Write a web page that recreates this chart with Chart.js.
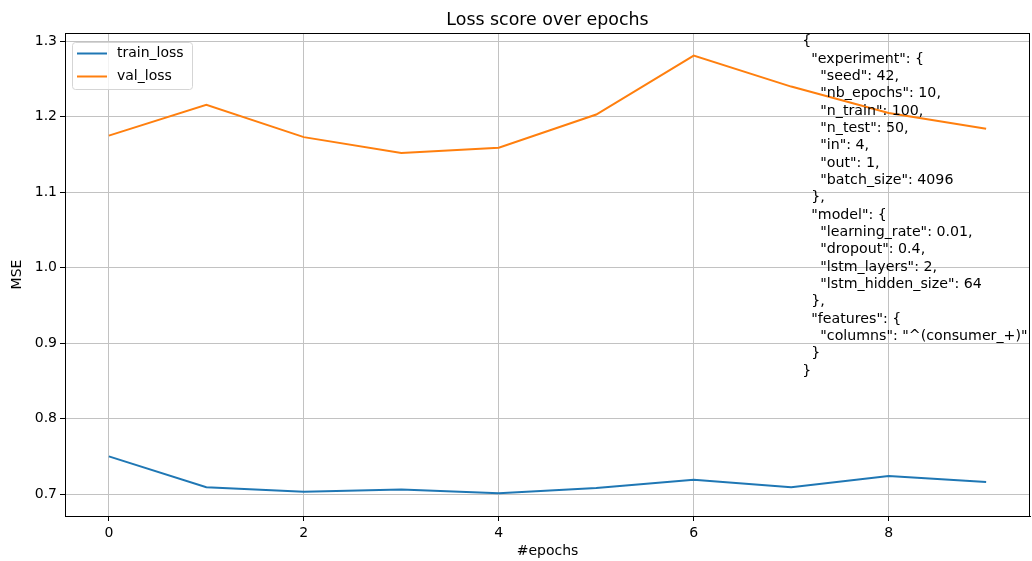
<!DOCTYPE html>
<html>
<head>
<meta charset="utf-8">
<title>Loss score over epochs</title>
<script src="https://cdn.jsdelivr.net/npm/chart.js@4/dist/chart.umd.min.js"></script>
<style>
  html, body { margin: 0; padding: 0; background: #fff; }
  #lossChart { display: block; }
</style>
</head>
<body>
<canvas id="lossChart" width="1032" height="561"></canvas>
<script>
// data
const epochs = [0, 1, 2, 3, 4, 5, 6, 7, 8, 9];
const trainLoss = [0.750, 0.709, 0.703, 0.706, 0.701, 0.708, 0.719, 0.709, 0.724, 0.716];
const valLoss = [1.175, 1.216, 1.173, 1.152, 1.159, 1.203, 1.281, 1.240, 1.205, 1.184];
const xTicks = [0, 2, 4, 6, 8];
const yTicks = [0.7, 0.8, 0.9, 1.0, 1.1, 1.2, 1.3];
const yTickLabels = ['0.7', '0.8', '0.9', '1.0', '1.1', '1.2', '1.3'];
const chartTitle = 'Loss score over epochs';
const configLines = [
  '{',
  '  "experiment": {',
  '    "seed": 42,',
  '    "nb_epochs": 10,',
  '    "n_train": 100,',
  '    "n_test": 50,',
  '    "in": 4,',
  '    "out": 1,',
  '    "batch_size": 4096',
  '  },',
  '  "model": {',
  '    "learning_rate": 0.01,',
  '    "dropout": 0.4,',
  '    "lstm_layers": 2,',
  '    "lstm_hidden_size": 64',
  '  },',
  '  "features": {',
  '    "columns": "^(consumer_+)"',
  '  }',
  '}'
];

const FONT = 'DejaVu Sans';

const toPoints = (ys) => epochs.map((x, i) => ({ x: x, y: ys[i] }));

// title over the axes, box round the plot, legend and the json text
const framePlugin = {
  id: 'frame',
  afterDatasetsDraw(chart) {
    const { ctx, chartArea: a } = chart;
    ctx.save();

    // title, centred on the plot area like matplotlib does
    ctx.fillStyle = '#000';
    ctx.font = '17.4px "' + FONT + '"';
    ctx.textAlign = 'center';
    ctx.textBaseline = 'middle';
    ctx.fillText(chartTitle, (a.left + a.right) / 2, 20);

    // json annotation
    ctx.font = '14.2px "' + FONT + '"';
    ctx.textAlign = 'left';
    const tx = a.left + 0.764 * (a.right - a.left);
    configLines.forEach((line, i) => {
      ctx.fillText(line, tx, 41.5 + i * 17.35);
    });

    // legend
    ctx.font = '14px "' + FONT + '"';
    const lx = a.left + 7, ly = a.top + 9, lw = 120, lh = 47;
    ctx.fillStyle = 'rgba(255,255,255,0.8)';
    ctx.strokeStyle = '#d5d5d5';
    ctx.lineWidth = 1;
    ctx.beginPath();
    ctx.roundRect(lx + 0.5, ly + 0.5, lw, lh, 3);
    ctx.fill();
    ctx.stroke();
    chart.data.datasets.forEach((ds, i) => {
      const y = ly + 11.5 + i * 23;
      ctx.strokeStyle = ds.borderColor;
      ctx.lineWidth = 2;
      ctx.beginPath();
      ctx.moveTo(lx + 5, y);
      ctx.lineTo(lx + 35, y);
      ctx.stroke();
      ctx.fillStyle = '#000';
      ctx.fillText(ds.label, lx + 45, y);
    });

    // frame
    ctx.strokeStyle = '#000';
    ctx.lineWidth = 1;
    ctx.strokeRect(Math.round(a.left) + 0.5, Math.round(a.top) + 0.5,
                   Math.round(a.right - a.left) - 1, Math.round(a.bottom - a.top));
    ctx.restore();
  }
};

new Chart(document.getElementById('lossChart'), {
  type: 'line',
  data: {
    datasets: [{
      label: 'train_loss',
      data: toPoints(trainLoss),
      borderColor: '#1f77b4',
      backgroundColor: '#1f77b4',
      borderWidth: 2,
      pointRadius: 0,
      tension: 0
    }, {
      label: 'val_loss',
      data: toPoints(valLoss),
      borderColor: '#ff7f0e',
      backgroundColor: '#ff7f0e',
      borderWidth: 2,
      pointRadius: 0,
      tension: 0
    }]
  },
  options: {
    responsive: false,
    animation: false,
    layout: { padding: { top: 33, right: 2, bottom: 0, left: 0 } },
    plugins: {
      legend: { display: false },
      tooltip: { enabled: false },
      title: { display: false }
    },
    scales: {
      x: {
        type: 'linear',
        min: -0.45,
        max: 9.45,
        afterBuildTicks: (scale) => { scale.ticks = xTicks.map(v => ({ value: v })); },
        afterFit: (scale) => { scale.height = 45; },
        ticks: {
          color: '#000',
          font: { family: FONT, size: 14 },
          padding: 4,
          maxRotation: 0,
          callback: (v) => String(v)
        },
        grid: { color: '#c2c2c2', lineWidth: 1, tickLength: 5, tickColor: '#000' },
        border: { display: true, color: '#000' },
        title: {
          display: true,
          text: '#epochs',
          color: '#000',
          font: { family: FONT, size: 14 },
          padding: { top: 0, bottom: 1 }
        }
      },
      y: {
        min: 0.671,
        max: 1.311,
        afterBuildTicks: (scale) => { scale.ticks = yTicks.map(v => ({ value: v })); },
        afterFit: (scale) => { scale.width = 65; },
        ticks: {
          color: '#000',
          font: { family: FONT, size: 14 },
          padding: 3,
          callback: (v) => yTickLabels[yTicks.findIndex(t => Math.abs(t - v) < 1e-6)]
        },
        grid: { color: '#c2c2c2', lineWidth: 1, tickLength: 5, tickColor: '#000' },
        border: { display: true, color: '#000' },
        title: {
          display: true,
          text: 'MSE',
          color: '#000',
          font: { family: FONT, size: 14 },
          padding: { top: 9, bottom: 0 }
        }
      }
    }
  },
  plugins: [framePlugin]
});
</script>
</body>
</html>
